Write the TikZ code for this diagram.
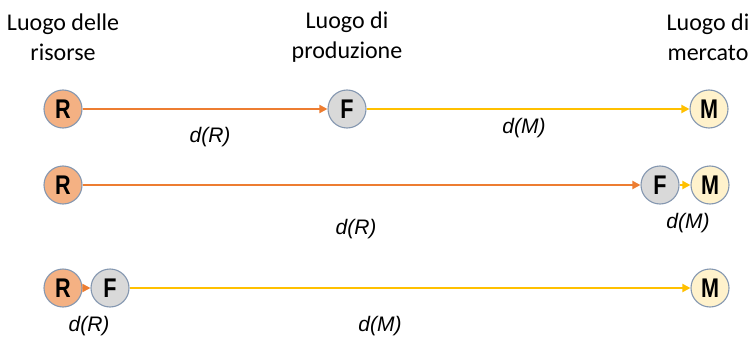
\documentclass[tikz,border=0pt]{standalone}
\usepackage{fontspec}
\usepackage{graphicx}
\setmainfont{Carlito}
\newfontfamily\arialfont{Liberation Sans}
\usetikzlibrary{arrows.meta}
\definecolor{resfill}{HTML}{F4B183}
\definecolor{prodfill}{HTML}{D9D9D9}
\definecolor{mktfill}{HTML}{FFF2CC}
\definecolor{ringcol}{HTML}{8497B0}
\definecolor{resline}{HTML}{ED7D31}
\definecolor{mktline}{HTML}{FFC000}
% condensed bold letter inside the circles
\newcommand{\placeletter}[1]{\scalebox{0.8}[1]{#1}}
\tikzset{
  x=1pt, y=-1pt,
  place/.style={circle, draw=ringcol, line width=1.1pt, minimum size=38pt, inner sep=0pt,
    font=\arialfont\bfseries\fontsize{27}{27}\selectfont},
  res/.style={place, fill=resfill},
  prod/.style={place, fill=prodfill},
  mkt/.style={place, fill=mktfill},
  head/.style={align=center, font=\fontsize{24}{30}\selectfont},
  dist/.style={font=\arialfont\itshape\fontsize{21}{21}\selectfont},
  resflow/.style={draw=resline, line width=1.8pt, -{Triangle[length=8pt,width=8pt]}},
  mktflow/.style={draw=mktline, line width=1.8pt, -{Triangle[length=8pt,width=8pt]}},
}
\begin{document}
\begin{tikzpicture}
\useasboundingbox (0,0) rectangle (754,342);
% column headings
\node[head] (h1) at (63,37) {Luogo delle\\risorse};
\node[head] (h2) at (347,37) {Luogo di\\produzione};
\node[head] (h3) at (708,37) {Luogo di\\mercato};
% first row: production between resources and market
\node[res] (r1) at (63,109) {\placeletter{R}};
\node[prod] (f1) at (347,109) {\placeletter{F}};
\node[mkt] (m1) at (709,109) {\placeletter{M}};
\draw[resflow] (r1) -- (f1);
\draw[mktflow] (f1) -- (m1);
\node[dist] (dr1) at (210,137) {d(R)};
\node[dist] (dm1) at (524,128) {d(M)};
% second row: production at the market
\node[res] (r2) at (63,185) {\placeletter{R}};
\node[prod] (f2) at (660,185) {\placeletter{F}};
\node[mkt] (m2) at (710,185) {\placeletter{M}};
\draw[resflow] (r2) -- (f2);
\draw[mktflow] (f2) -- (m2);
\node[dist] (dr2) at (356,229) {d(R)};
\node[dist] (dm2) at (688,223) {d(M)};
% third row: production at the resources
\node[res] (r3) at (63,288) {\placeletter{R}};
\node[prod] (f3) at (110,288) {\placeletter{F}};
\node[mkt] (m3) at (710,288) {\placeletter{M}};
\draw[resflow] (r3) -- (f3);
\draw[mktflow] (f3) -- (m3);
\node[dist] (dr3) at (89,326) {d(R)};
\node[dist] (dm3) at (380,326) {d(M)};
\end{tikzpicture}
\end{document}
